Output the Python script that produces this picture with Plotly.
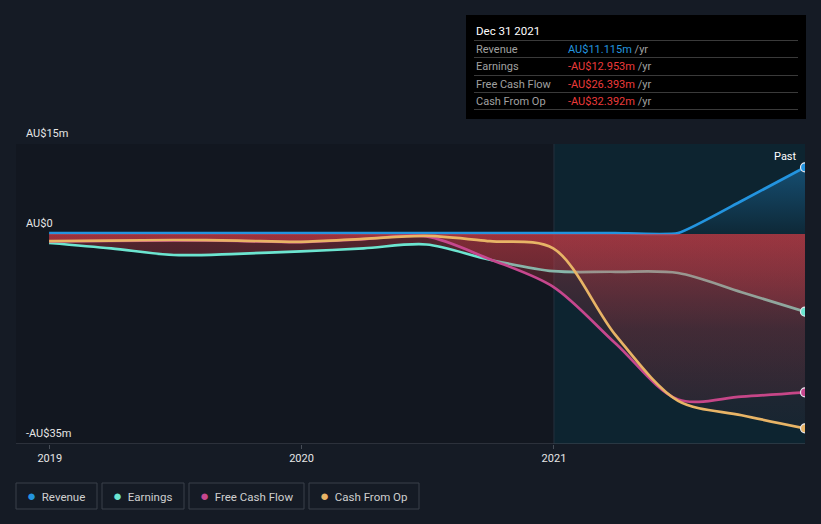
import plotly.graph_objects as go

dates = ["2018-12-31", "2019-03-31", "2019-06-30", "2019-09-30", "2019-12-31",
         "2020-03-31", "2020-06-30", "2020-09-30", "2020-12-31",
         "2021-03-31", "2021-06-30", "2021-09-30", "2021-12-31"]
revenue = [0.15, 0.15, 0.15, 0.15, 0.15, 0.15, 0.15, 0.15, 0.15, 0.15, 0.15, 5.5, 11.115]
earnings = [-1.5, -2.4, -3.5, -3.3, -2.9, -2.4, -1.75, -4.3, -6.2, -6.3, -6.5, -9.7, -12.953]
free_cash_flow = [-1.25, -1.15, -1.05, -1.15, -1.35, -0.85, -0.4, -4.2, -8.8, -18.2, -27.6, -27.1, -26.393]
cash_from_op = [-1.2, -1.1, -1.0, -1.1, -1.3, -0.8, -0.3, -1.2, -2.4, -16.8, -27.8, -30.2, -32.392]

names = ["Revenue", "Earnings", "Free Cash Flow", "Cash From Op"]
colors = ["#2394df", "#6ce5d0", "#c6478e", "#e8b466"]
series = [revenue, earnings, free_cash_flow, cash_from_op]
smooth = [0.45, 0.9, 0.9, 0.9]

tooltip_date = "Dec 31 2021"
tooltip_values = ["AU$11.115m", "-AU$12.953m", "-AU$26.393m", "-AU$32.392m"]
y_labels = [(15, "AU$15m"), (0, "AU$0"), (-35, "-AU$35m")]
x_ticks = ["2019-01-01", "2020-01-01", "2021-01-01"]
x_tick_text = ["2019", "2020", "2021"]

BG = "#151b25"
FONT = "Roboto"

fig = go.Figure()

for name, col, vals, sm in zip(names, colors, series, smooth):
    if name == "Revenue":
        grad = dict(type="vertical", start=0, stop=12,
                    colorscale=[[0, "rgba(35,148,223,0.04)"], [1, "rgba(35,148,223,0.40)"]])
    else:
        grad = dict(type="vertical", start=-35, stop=0,
                    colorscale=[[0, "rgba(205,60,70,0.04)"], [0.55, "rgba(205,60,70,0.15)"],
                                [1, "rgba(205,60,70,0.36)"]])
    fig.add_trace(go.Scatter(
        x=dates, y=vals, name=name, mode="lines",
        line=dict(color=col, width=2.7, shape="spline", smoothing=sm),
        fill="tozeroy", fillgradient=grad, hoverinfo="skip", showlegend=False,
    ))

# end markers
for name, col, vals in zip(names, colors, series):
    fig.add_trace(go.Scatter(
        x=[dates[-1]], y=[vals[-1]], mode="markers",
        marker=dict(color=col, size=9, line=dict(color="#e8e8f0", width=1.2)),
        hoverinfo="skip", showlegend=False,
    ))

shapes = [
    dict(type="rect", xref="x", yref="y", x0="2018-11-13", x1="2021-01-01", y0=-35, y1=15,
         fillcolor="#121720", line=dict(width=0), layer="below"),
    dict(type="rect", xref="x", yref="y", x0="2021-01-01", x1="2021-12-31", y0=-35, y1=15,
         fillcolor="#0d2430", line=dict(width=0), layer="below"),
    dict(type="line", xref="x", yref="y", x0="2021-01-01", x1="2021-01-01", y0=-35, y1=15,
         line=dict(color="#25313d", width=1), layer="below"),
    dict(type="line", xref="paper", yref="y", x0=0, x1=1, y0=15, y1=15,
         line=dict(color="#3a414b", width=1), layer="below"),
    dict(type="line", xref="paper", yref="y", x0=0, x1=1, y0=-20, y1=-20,
         line=dict(color="#2b313a", width=1), layer="below"),
    dict(type="line", xref="paper", yref="y", x0=0, x1=1, y0=0, y1=0,
         line=dict(color="#ffffff", width=1.5), layer="below"),
    dict(type="line", xref="paper", yref="y", x0=0, x1=1, y0=-35, y1=-35,
         line=dict(color="#474d57", width=1), layer="above"),
]

annotations = []
for yv, txt in y_labels:
    annotations.append(dict(xref="paper", yref="y", x=0, y=yv, xanchor="left", yanchor="bottom",
                            xshift=8, yshift=2, text=txt, showarrow=False,
                            font=dict(family=FONT, size=11, color="#e6e6e6")))
annotations.append(dict(xref="paper", yref="y", x=1, y=15, xanchor="right", yanchor="top",
                        xshift=-6, yshift=-4, text="Past", showarrow=False,
                        font=dict(family=FONT, size=11, color="#ffffff")))

# tooltip box
shapes.append(dict(type="rect", xref="paper", yref="paper",
                   x0=(466 - 16) / 789, x1=(806 - 16) / 789,
                   y0=(444 - 119) / 300, y1=(444 - 15) / 300,
                   fillcolor="#000000", line=dict(width=0), layer="above"))
annotations.append(dict(xref="paper", yref="paper", x=(474 - 16) / 789, y=(444 - 31) / 300,
                        xanchor="left", yanchor="middle", text=tooltip_date, showarrow=False,
                        font=dict(family=FONT, size=11.5, color="#ffffff")))
row_y = [49, 66, 84, 101]
for i, (name, val) in enumerate(zip(names, tooltip_values)):
    yc = row_y[i]
    shapes.append(dict(type="line", xref="paper", yref="paper",
                       x0=(474 - 16) / 789, x1=(798 - 16) / 789,
                       y0=(444 - (yc - 8.5)) / 300, y1=(444 - (yc - 8.5)) / 300,
                       line=dict(color="#3a3a3a", width=1), layer="above"))
    annotations.append(dict(xref="paper", yref="paper", x=(474 - 16) / 789, y=(444 - yc) / 300,
                            xanchor="left", yanchor="middle", text=name, showarrow=False,
                            font=dict(family=FONT, size=11, color="#a0a0a0")))
    vcol = "#2394df" if not val.startswith("-") else "#ec3b3b"
    annotations.append(dict(xref="paper", yref="paper", x=(566 - 16) / 789, y=(444 - yc) / 300,
                            xanchor="left", yanchor="middle",
                            text=f"<span style='color:{vcol}'>{val}</span> <span style='color:#a0a0a0'>/yr</span>",
                            showarrow=False, font=dict(family=FONT, size=11, color=vcol)))
shapes.append(dict(type="line", xref="paper", yref="paper",
                   x0=(474 - 16) / 789, x1=(798 - 16) / 789,
                   y0=(444 - 109.5) / 300, y1=(444 - 109.5) / 300,
                   line=dict(color="#3a3a3a", width=1), layer="above"))

# legend boxes
legend_boxes = [(16, 97), (102, 184), (189, 304), (309, 419)]
for (x0, x1), name, col in zip(legend_boxes, names, colors):
    shapes.append(dict(type="rect", xref="paper", yref="paper",
                       x0=(x0 - 16) / 789, x1=(x1 - 16) / 789,
                       y0=(444 - 509) / 300, y1=(444 - 483) / 300,
                       fillcolor="rgba(0,0,0,0)", line=dict(color="#3b414b", width=1), layer="above"))
    annotations.append(dict(xref="paper", yref="paper", x=(x0 + 9 - 16) / 789, y=(444 - 496) / 300,
                            xanchor="left", yanchor="middle",
                            text=f"<span style='color:{col};font-size:15px'>●</span>  {name}",
                            showarrow=False, font=dict(family=FONT, size=11.5, color="#cfcfcf")))

fig.update_layout(
    width=821, height=524,
    margin=dict(l=16, r=16, t=144, b=80),
    paper_bgcolor=BG, plot_bgcolor=BG,
    shapes=shapes, annotations=annotations,
    showlegend=False,
    xaxis=dict(type="date", range=["2018-11-13", "2021-12-31"], showgrid=False, zeroline=False,
               tickvals=x_ticks, ticktext=x_tick_text, ticks="outside", ticklen=4,
               tickcolor="#474d57", tickfont=dict(family=FONT, size=11, color="#e6e6e6"),
               showline=False, fixedrange=True),
    yaxis=dict(range=[-35, 15], showgrid=False, zeroline=False, showticklabels=False,
               showline=False, fixedrange=True),
)

fig.write_html("out.html", config={"displayModeBar": False},
               post_script="document.body.style.margin='0px';document.body.style.background='%s';" % BG)
